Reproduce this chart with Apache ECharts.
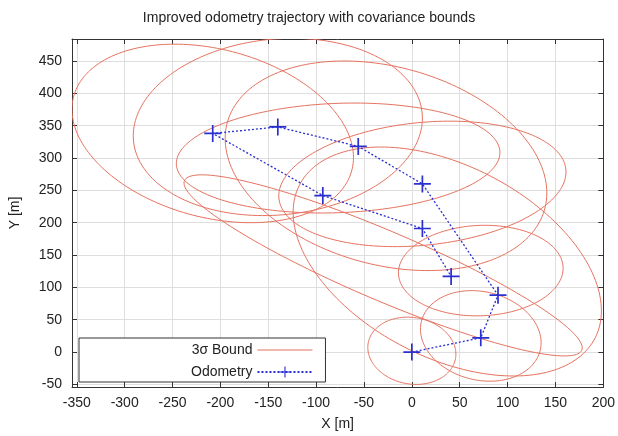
<!DOCTYPE html>
<html>
<head>
<meta charset="utf-8">
<title>Improved odometry trajectory with covariance bounds</title>
<script src="https://cdn.jsdelivr.net/npm/echarts@6/dist/echarts.min.js"></script>
<style>
  html, body { margin: 0; padding: 0; background: #fff; }
  #chart { width: 618px; height: 436px; }
</style>
</head>
<body>
<div id="chart"></div>
<script>
// odometry poses (m), in driving order
const poseX = [0, 72, 90, 11, -56, -140, -208, -93, 11, 41];
const poseY = [0, 22, 88, 260, 318, 348, 338, 242, 191, 117];

// 3 sigma bounds: centre, half width in x, half height in y, correlation
const boundCx  = [0, 72, 72, 37, -27, -140, -208, -77, 11, -30];
const boundCy  = [2, 25, 126, 140, 288, 348, 338, 300, 260, 134];
const boundSx  = [46, 63, 86, 161, 168, 151, 147, 169, 150, 208];
const boundSy  = [52, 70, 70, 177, 162, 137, 138, 85, 97, 140];
const boundRho = [-0.1, -0.15, 0.05, -0.43, -0.26, 0.1, -0.27, 0.1, 0.19, -0.91];

// axis ranges and tick step
const xRange = [-355, 200];
const yRange = [-54, 484];
const tickStep = 50;

const boundColor = '#e6725f';
const odoColor = '#2a2fd0';
const textColor = '#222';
const font = 'Liberation Sans';

const crossIcon = 'path://M4.5,0 H5.5 V4.5 H10 V5.5 H5.5 V10 H4.5 V5.5 H0 V4.5 H4.5 Z';

const chart = echarts.init(document.getElementById('chart'), null, { renderer: 'canvas' });

// ellipse outline drawn through the axes
function renderBound(params, api) {
  const cx = api.value(0), cy = api.value(1);
  const sx = api.value(2), sy = api.value(3), rho = api.value(4);
  const k = Math.sqrt(1 - rho * rho);
  const pts = [];
  for (let i = 0; i <= 180; i++) {
    const t = i / 180 * 2 * Math.PI;
    pts.push(api.coord([cx + sx * Math.cos(t), cy + sy * (rho * Math.cos(t) + k * Math.sin(t))]));
  }
  const cs = params.coordSys;
  return {
    type: 'polyline',
    shape: { points: pts },
    style: { stroke: boundColor, fill: null, lineWidth: 1 },
    clipPath: { type: 'rect', shape: { x: cs.x, y: cs.y, width: cs.width, height: cs.height } }
  };
}

const onStep = v => (Math.abs(v % tickStep) < 1e-6 ? String(v) : '');

function valueAxis(range, extra) {
  return Object.assign({
    type: 'value',
    min: range[0],
    max: range[1],
    minInterval: tickStep,
    maxInterval: tickStep,
    splitNumber: Math.round((range[1] - range[0]) / tickStep),
    axisLine: { show: true, onZero: false, lineStyle: { color: '#333', width: 1 } },
    axisTick: { show: true, inside: true, length: 5, lineStyle: { color: '#333' } },
    axisLabel: { color: textColor, fontFamily: font, fontSize: 14, formatter: onStep },
    splitLine: { show: true, lineStyle: { color: '#dedede', width: 1 } }
  }, extra);
}

const option = {
  animation: false,
  backgroundColor: '#fff',
  title: {
    text: 'Improved odometry trajectory with covariance bounds',
    left: 'center',
    top: 6,
    textStyle: { color: textColor, fontFamily: font, fontSize: 14, fontWeight: 'normal' }
  },
  grid: { left: 71, right: 12, top: 39, bottom: 49 },
  legend: {
    orient: 'vertical',
    align: 'right',
    left: 79,
    top: 338,
    itemWidth: 55,
    itemHeight: 14,
    itemGap: 8,
    padding: [5, 12, 3, 112],
    backgroundColor: '#fff',
    borderColor: '#333',
    borderWidth: 1,
    borderRadius: 0,
    selectedMode: false,
    textStyle: { color: textColor, fontFamily: font, fontSize: 14 },
    data: [
      { name: '3σ Bound', icon: 'path://M0,0 H55 V1 H0 Z', itemStyle: { color: boundColor } },
      { name: 'Odometry' }
    ]
  },
  xAxis: [
    valueAxis(xRange, {
      position: 'bottom',
      name: 'X [m]',
      nameLocation: 'middle',
      nameGap: 30,
      nameTextStyle: { color: textColor, fontFamily: font, fontSize: 14 },
      axisLabel: { color: textColor, fontFamily: font, fontSize: 14, margin: 9, formatter: onStep }
    }),
    valueAxis(xRange, {
      position: 'top',
      axisLabel: { show: false },
      splitLine: { show: false }
    })
  ],
  yAxis: [
    valueAxis(yRange, {
      position: 'left',
      name: 'Y [m]',
      nameLocation: 'middle',
      nameGap: 50,
      nameTextStyle: { color: textColor, fontFamily: font, fontSize: 14 },
      axisLabel: { color: textColor, fontFamily: font, fontSize: 14, margin: 10, formatter: onStep }
    }),
    valueAxis(yRange, {
      position: 'right',
      axisLabel: { show: false },
      splitLine: { show: false }
    })
  ],
  series: [
    {
      name: '3σ Bound',
      type: 'custom',
      coordinateSystem: 'cartesian2d',
      xAxisIndex: 0,
      yAxisIndex: 0,
      clip: true,
      itemStyle: { color: boundColor },
      encode: { x: 0, y: 1 },
      renderItem: renderBound,
      data: boundCx.map((cx, i) => [cx, boundCy[i], boundSx[i], boundSy[i], boundRho[i]])
    },
    {
      name: 'Odometry',
      type: 'line',
      xAxisIndex: 0,
      yAxisIndex: 0,
      data: poseX.map((x, i) => [x, poseY[i]]),
      symbol: crossIcon,
      symbolSize: 17,
      showAllSymbol: true,
      itemStyle: { color: odoColor },
      lineStyle: { color: odoColor, width: 1.3, type: [2, 2] },
      z: 3
    }
  ]
};

chart.setOption(option);
</script>
</body>
</html>
